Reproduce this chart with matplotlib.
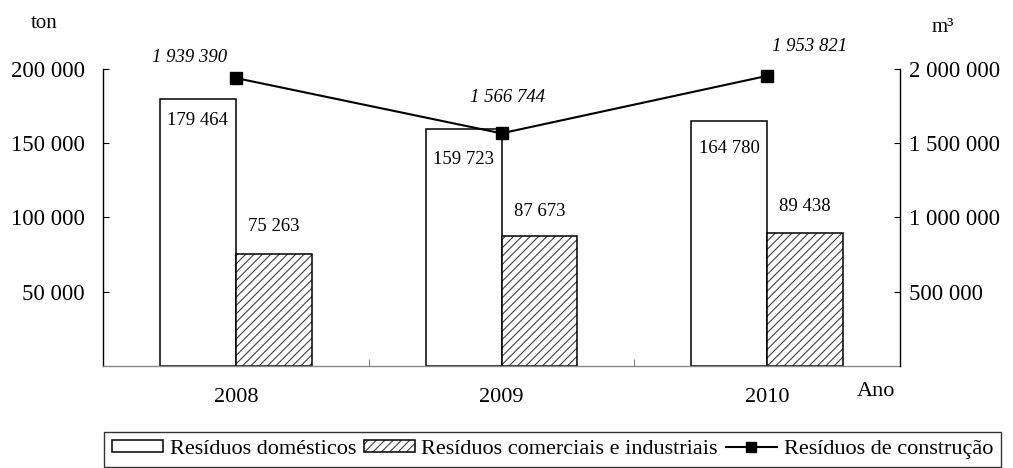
import matplotlib
matplotlib.use('Agg')
import matplotlib.pyplot as plt
from matplotlib.patches import Patch
from matplotlib.lines import Line2D
from matplotlib.legend_handler import HandlerTuple
from matplotlib.ticker import FixedLocator, FuncFormatter
import numpy as np

plt.rcParams['font.family'] = ['Liberation Serif', 'DejaVu Serif']
plt.rcParams['hatch.linewidth'] = 0.8

anos = ['2008', '2009', '2010']
domesticos = [179464, 159723, 164780]
comerciais = [75263, 87673, 89438]
construcao = [1939390, 1566744, 1953821]

# label offsets in pixels (dx, dy)
off_dom = [(0, -21), (0, -31), (0, -27)]
off_com = [(0, 28), (0, 24), (0, 27)]
off_con = [(-46, 21), (6, 36), (42, 29)]


def fmt(v):
    return '{:,}'.format(int(v)).replace(',', ' ')


fig = plt.figure(figsize=(10.13, 4.68), dpi=100)
W, H = 1013, 468
ax = fig.add_axes([103 / W, 1 - 366 / H, 797 / W, 297 / H])
ax2 = ax.twinx()

x = np.arange(len(anos))
w = 0.286
hatch = '////'

ax.bar(x - w / 2, domesticos, w, facecolor='white', edgecolor='black', linewidth=1.1)
ax.bar(x + w / 2, comerciais, w, facecolor='white', edgecolor='#404040', linewidth=0, hatch=hatch)
ax.bar(x + w / 2, comerciais, w, fill=False, edgecolor='black', linewidth=1.1)

ax2.plot(x, construcao, color='black', lw=1.5, marker='s', markersize=8)

for i in range(len(anos)):
    ax.annotate(fmt(domesticos[i]), (x[i] - w / 2, domesticos[i]), xytext=off_dom[i],
                textcoords='offset pixels', ha='center', va='center', fontsize=13.5)
    ax.annotate(fmt(comerciais[i]), (x[i] + w / 2, comerciais[i]), xytext=off_com[i],
                textcoords='offset pixels', ha='center', va='center', fontsize=13.5)
    ax2.annotate(fmt(construcao[i]), (x[i], construcao[i]), xytext=off_con[i],
                 textcoords='offset pixels', ha='center', va='center', fontsize=13.5,
                 style='italic')

ax.set_xlim(-0.5, 2.5)
ax.set_ylim(0, 200000)
ax2.set_ylim(0, 2000000)

ax.set_xticks(x)
ax.set_xticklabels(anos, fontsize=16)
ax.xaxis.set_minor_locator(FixedLocator([0.5, 1.5]))
ax.tick_params(axis='x', which='major', length=0, pad=16)
ax.tick_params(axis='x', which='minor', direction='in', length=5, color='#666666')

ax.yaxis.set_major_locator(FixedLocator([50000, 100000, 150000, 200000]))
ax.yaxis.set_major_formatter(FuncFormatter(lambda v, p: fmt(v)))
ax.tick_params(axis='y', direction='in', length=4, pad=13, labelsize=16.5)

ax2.yaxis.set_major_locator(FixedLocator([500000, 1000000, 1500000, 2000000]))
ax2.yaxis.set_major_formatter(FuncFormatter(lambda v, p: fmt(v)))
ax2.tick_params(axis='y', direction='in', length=4, pad=6.5, labelsize=16.5)

for s in ['top', 'right']:
    ax.spines[s].set_visible(False)
for s in ['top', 'bottom', 'left']:
    ax2.spines[s].set_visible(False)
ax.spines['left'].set_linewidth(1.0)
ax2.spines['right'].set_linewidth(1.0)
ax.spines['bottom'].set_color('#888888')
ax.spines['bottom'].set_linewidth(1.0)

fig.text(44 / W, 1 - 23 / H, 'ton', ha='center', va='center', fontsize=15)
fig.text(943 / W, 1 - 28 / H, 'm³', ha='center', va='center', fontsize=15)
fig.text(876 / W, 1 - 391 / H, 'Ano', ha='center', va='center', fontsize=16)

h1 = Patch(facecolor='white', edgecolor='black', linewidth=1.1)
h2 = (Patch(facecolor='white', edgecolor='#404040', linewidth=0, hatch=hatch),
      Patch(fill=False, edgecolor='black', linewidth=1.1))
h3 = Line2D([], [], color='black', lw=1.5, marker='s', markersize=7)
leg = fig.legend([h1, h2, h3],
                 ['Resíduos domésticos', 'Resíduos comerciais e industriais', 'Resíduos de construção'],
                 handler_map={tuple: HandlerTuple(ndivide=1, pad=0)},
                 loc='upper left', bbox_to_anchor=(104 / W, 1 - 432 / H), borderaxespad=0,
                 ncol=3, fontsize=16, frameon=True, fancybox=False, handlelength=2.3,
                 handleheight=0.45, handletextpad=0.3, columnspacing=0.35, borderpad=0.35)
leg.get_frame().set_edgecolor('black')
leg.get_frame().set_linewidth(1.0)

fig.savefig('out.png', dpi=100)
